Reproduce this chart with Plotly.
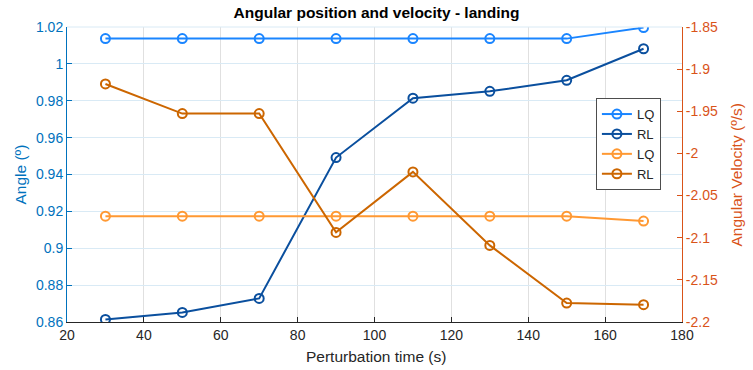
import plotly.graph_objects as go

# Perturbation times (s)
perturbation_time = [30, 50, 70, 90, 110, 130, 150, 170]

# Angular position (º) - left axis
angle_lq = [1.0137, 1.0137, 1.0137, 1.0137, 1.0137, 1.0137, 1.0137, 1.0197]
angle_rl = [0.8614, 0.8652, 0.8728, 0.9492, 0.9814, 0.9851, 0.9911, 1.0082]

# Angular velocity (º/s) - right axis
velocity_lq = [-2.0744, -2.0744, -2.0744, -2.0744, -2.0744, -2.0744, -2.0744, -2.0803]
velocity_rl = [-1.9176, -1.9527, -1.9527, -2.0937, -2.0219, -2.1091, -2.1775, -2.1795]

# Tick positions / labels
x_ticks = [20, 40, 60, 80, 100, 120, 140, 160, 180]
left_ticks = [0.86, 0.88, 0.90, 0.92, 0.94, 0.96, 0.98, 1.00, 1.02]
left_labels = ["0.86", "0.88", "0.9", "0.92", "0.94", "0.96", "0.98", "1", "1.02"]
right_ticks = [-1.85, -1.90, -1.95, -2.00, -2.05, -2.10, -2.15, -2.20]
right_labels = ["-1.85", "-1.9", "-1.95", "-2", "-2.05", "-2.1", "-2.15", "-2.2"]

LEFT_COLOR = "#0072BD"
RIGHT_COLOR = "#D95319"
TEXT_DARK = "#262626"
FONT = "Liberation Sans, Arial, sans-serif"

fig = go.Figure()

series = [
    ("LQ", angle_lq, "#1a85ff", "y"),
    ("RL", angle_rl, "#0a4f9e", "y"),
    ("LQ", velocity_lq, "#ff9933", "y2"),
    ("RL", velocity_rl, "#cc6600", "y2"),
]
for name, values, color, axis in series:
    fig.add_trace(go.Scatter(
        x=perturbation_time, y=values, name=name, yaxis=axis,
        mode="lines+markers",
        line=dict(color=color, width=2),
        marker=dict(symbol="circle-open", size=9, color=color,
                    line=dict(width=2, color=color)),
    ))

fig.update_layout(
    width=753, height=370,
    margin=dict(l=67, r=71, t=27, b=48),
    paper_bgcolor="white", plot_bgcolor="white",
    font=dict(family=FONT, size=14, color=TEXT_DARK),
    title=dict(text="<b>Angular position and velocity - landing</b>",
               x=0.5, xanchor="center", y=0.967, yanchor="middle",
               font=dict(size=15.5, color="black")),
    xaxis=dict(
        range=[20, 180], tickvals=x_ticks, ticks="inside", ticklen=5,
        tickcolor=TEXT_DARK, showline=True, linecolor=TEXT_DARK, linewidth=1,
        showgrid=True, gridcolor="#e0e0e0", gridwidth=1, zeroline=False,
        tickfont=dict(size=14, color=TEXT_DARK), automargin=False,
    ),
    yaxis=dict(
        range=[0.86, 1.02], tickvals=left_ticks, ticktext=left_labels,
        ticks="inside", ticklen=5, tickcolor=LEFT_COLOR,
        showline=True, linecolor=LEFT_COLOR, linewidth=1,
        showgrid=True, gridcolor="#d9eaf5", gridwidth=1, zeroline=False,
        tickfont=dict(size=14, color=LEFT_COLOR), automargin=False,
    ),
    yaxis2=dict(
        range=[-2.2, -1.85], tickvals=right_ticks, ticktext=right_labels,
        overlaying="y", side="right",
        ticks="inside", ticklen=5, tickcolor=RIGHT_COLOR,
        showline=True, linecolor=RIGHT_COLOR, linewidth=1,
        showgrid=False, zeroline=False,
        tickfont=dict(size=14, color=RIGHT_COLOR), automargin=False,
    ),
    legend=dict(
        x=0.86, y=0.759, xanchor="left", yanchor="top",
        bgcolor="white", bordercolor="#4d4d4d", borderwidth=1,
        font=dict(size=13, color=TEXT_DARK),
        tracegroupgap=0, itemwidth=30,
    ),
    showlegend=True,
)

# Axis titles
fig.add_annotation(text="Perturbation time (s)", xref="paper", yref="paper",
                   x=0.503, y=-0.1186, xanchor="center", yanchor="middle",
                   showarrow=False, font=dict(size=15.5, color=TEXT_DARK))
fig.add_annotation(text="Angle (º)", xref="paper", yref="paper",
                   x=-0.0748, y=0.5, xanchor="center", yanchor="middle",
                   textangle=-90, showarrow=False,
                   font=dict(size=15.5, color=LEFT_COLOR))
fig.add_annotation(text="Angular Velocity (º/s)", xref="paper", yref="paper",
                   x=1.0894, y=0.5, xanchor="center", yanchor="middle",
                   textangle=-90, showarrow=False,
                   font=dict(size=15.5, color=RIGHT_COLOR))

# light top border of the axes box
fig.add_shape(type="line", xref="paper", yref="paper", x0=0, x1=1, y0=1, y1=1,
              line=dict(color="#d9eaf5", width=1))

fig.write_html("out.html")
